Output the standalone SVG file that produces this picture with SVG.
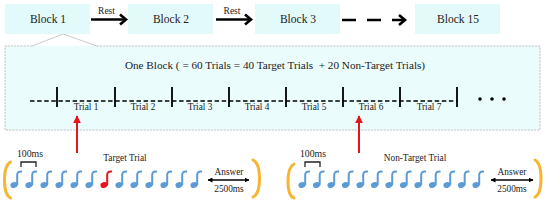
<svg xmlns="http://www.w3.org/2000/svg" width="549" height="208" viewBox="0 0 549 208" font-family="'Liberation Serif', 'DejaVu Serif', serif">
<style>
text{font-family:'Liberation Serif','DejaVu Serif',serif;fill:#222}
.blk{fill:#e3fafb}
.bt{font-size:11.5px;text-anchor:middle}
.sm{font-size:9.3px;text-anchor:middle}
.ar{stroke:#000;stroke-width:2.6;fill:none}
.tick{stroke:#000;stroke-width:1.8}
.note{stroke:#5b9bd5;stroke-width:2;fill:none;stroke-linecap:round}
.nh{fill:#5b9bd5}
.brk{stroke:#f7b531;stroke-width:3;fill:none;stroke-linecap:round}
</style>
<defs>
<marker id="ah" viewBox="0 0 10 10" refX="9" refY="5" markerWidth="5" markerHeight="5" orient="auto-start-reverse" markerUnits="userSpaceOnUse">
<path d="M0,0 L10,5 L0,10 Z" fill="#000"/>
</marker>
<marker id="rh" viewBox="0 0 10 10" refX="9" refY="5" markerWidth="8" markerHeight="8" orient="auto" markerUnits="userSpaceOnUse">
<path d="M0,0 L10,5 L0,10 Z" fill="#e8141c"/>
</marker>
<g id="n">
<ellipse class="nh" cx="0" cy="185" rx="3.6" ry="2.9" transform="rotate(-20 0 185)"/>
<path class="note" d="M3.2,184.5 V175 Q3.2,171.2 7.2,171.6"/>
</g>
</defs>

<g id="panel">
<rect x="5" y="46" width="535" height="84" fill="#ebfcfc"/>
<path d="M32,46 H5 V130 H540 V46 H97" fill="none" stroke="#b0b0b0" stroke-width="0.8" stroke-dasharray="2 1.2"/>
<path d="M32,46 L63,34 L97,46" fill="none" stroke="#c4c4c4" stroke-width="0.9"/>
</g>

<g id="block1"><rect class="blk" x="5" y="4" width="85" height="30"/><text class="bt" x="48" y="23">Block 1</text></g>
<g id="block2"><rect class="blk" x="128" y="4" width="85" height="30"/><text class="bt" x="171" y="23">Block 2</text></g>
<g id="block3"><rect class="blk" x="255" y="4" width="85" height="30"/><text class="bt" x="298" y="23">Block 3</text></g>
<g id="block15"><rect class="blk" x="415" y="4" width="85" height="30"/><text class="bt" x="458" y="23">Block 15</text></g>

<g id="connectors">
<text class="sm" x="106.5" y="13.5" style="font-size:9.5px">Rest</text>
<path class="ar" d="M91,19.5 H126"/>
<path class="ar" d="M120,14.5 L126,19.5 L120,24.5"/>
<text class="sm" x="232" y="13.5" style="font-size:9.5px">Rest</text>
<path class="ar" d="M216,19.5 H251"/>
<path class="ar" d="M245,14.5 L251,19.5 L245,24.5"/>
<path class="ar" d="M342,20 H405" stroke-dasharray="14 11"/>
<path class="ar" d="M399,15 L405,20 L399,25"/>
<path d="M77,153 V116" stroke="#e8141c" stroke-width="2" fill="none" marker-end="url(#rh)"/>
<path d="M359,153 V116" stroke="#e8141c" stroke-width="2" fill="none" marker-end="url(#rh)"/>
</g>

<g id="block-detail">
<text x="275" y="69" style="font-size:11.2px;text-anchor:middle">One Block ( = 60 Trials = 40 Target Trials &#160;+ 20 Non-Target Trials)</text>
<path d="M30,101 H457" stroke="#000" stroke-width="1.3" stroke-dasharray="4.5 2.6"/>
<path class="tick" d="M57,87 V107 M115,87 V107 M172,87 V107 M229,87 V107 M286,87 V107 M343,87 V107 M400,87 V107 M457,87 V107"/>
<text class="sm" x="86" y="110">Trial 1</text>
<text class="sm" x="143" y="110">Trial 2</text>
<text class="sm" x="200" y="110">Trial 3</text>
<text class="sm" x="257" y="110">Trial 4</text>
<text class="sm" x="314" y="110">Trial 5</text>
<text class="sm" x="371" y="110">Trial 6</text>
<text class="sm" x="429" y="110">Trial 7</text>
<circle cx="480" cy="99" r="1.8"/><circle cx="492" cy="99" r="1.8"/><circle cx="504" cy="99" r="1.8"/>
</g>

<g id="target-trial">
<path class="brk" d="M10.5,162 Q4.5,165 4.5,180 Q4.5,195 10.5,198"/>
<path class="brk" d="M253,160 Q259.5,163 259.5,178.5 Q259.5,194 253,197"/>
<text class="sm" x="30" y="157" style="font-size:9.8px">100ms</text>
<path d="M21,167 V162 H36 V167" stroke="#222" stroke-width="1.3" fill="none"/>
<text class="sm" x="125" y="161">Target Trial</text>
<use href="#n" x="14"/><use href="#n" x="29"/><use href="#n" x="44"/><use href="#n" x="59"/><use href="#n" x="74"/><use href="#n" x="89"/>
<g><ellipse cx="104" cy="185" rx="3.6" ry="2.9" fill="#e8141c" transform="rotate(-20 104 185)"/><path d="M107.2,184.5 V175 Q107.2,171.2 111.2,171.6" stroke="#e8141c" stroke-width="2" fill="none" stroke-linecap="round"/></g>
<use href="#n" x="119"/><use href="#n" x="134"/><use href="#n" x="149"/><use href="#n" x="164"/><use href="#n" x="179"/><use href="#n" x="194"/>
<text class="sm" x="229" y="175">Answer</text>
<path d="M208,180 H249" stroke="#000" stroke-width="1.4" marker-start="url(#ah)" marker-end="url(#ah)"/>
<text class="sm" x="229" y="192">2500ms</text>
</g>

<g id="nontarget-trial">
<path class="brk" d="M294,164 Q288,167 288,181.5 Q288,196 294,198"/>
<path class="brk" d="M535,160 Q541,163 541,178.5 Q541,194 535,197"/>
<text class="sm" x="313" y="157" style="font-size:9.8px">100ms</text>
<path d="M305,167 V162 H320 V167" stroke="#222" stroke-width="1.3" fill="none"/>
<text class="sm" x="415" y="161">Non-Target Trial</text>
<use href="#n" x="302"/><use href="#n" x="316.5"/><use href="#n" x="331"/><use href="#n" x="345.5"/><use href="#n" x="360"/><use href="#n" x="374.5"/><use href="#n" x="389"/><use href="#n" x="403.5"/><use href="#n" x="418"/><use href="#n" x="432.5"/><use href="#n" x="447"/><use href="#n" x="461.5"/><use href="#n" x="476"/>
<text class="sm" x="512" y="175">Answer</text>
<path d="M491,180 H533" stroke="#000" stroke-width="1.4" marker-start="url(#ah)" marker-end="url(#ah)"/>
<text class="sm" x="512" y="192">2500ms</text>
</g>
</svg>
